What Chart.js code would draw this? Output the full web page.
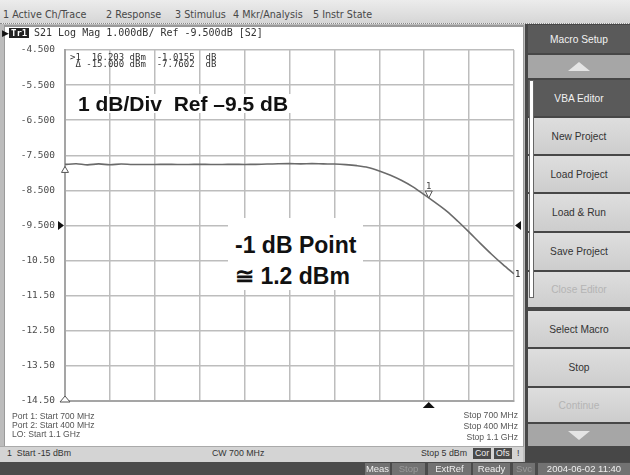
<!DOCTYPE html>
<html>
<head>
<meta charset="utf-8">
<script src="https://cdn.jsdelivr.net/npm/chart.js@4.4.0/dist/chart.umd.min.js"></script>
<style>
body { margin:0; width:630px; height:475px; overflow:hidden; background:#bcbcbc; position:relative; font-family:"Liberation Sans", Arial, sans-serif; }
.a { position:absolute; white-space:pre; }
#menu { left:0; top:0; width:630px; height:23px; background:linear-gradient(#ececec,#d6d6d6); border-bottom:1px dotted #8a8a8a; }
.mi { top:9px; font-size:9.6px; font-family:"DejaVu Sans", sans-serif; color:#484848; line-height:12px; }
#panel { left:4px; top:25px; width:518px; height:419px; background:#fff; border:1px solid #9a9a9a; border-top:2px solid #9a9a9a; }
#wrap { left:0; top:0; width:630px; height:475px; }
.mono { font-family:"DejaVu Sans Mono", monospace; color:#444; }
.big { font-weight:bold; color:#111; background:#fff; font-family:"Liberation Sans", Arial, sans-serif; }
.foot { font-size:8.6px; color:#555; line-height:9px; }
#status { left:0; top:446px; width:523px; height:15px; background:#d4d4d4; border-top:1px solid #aaa; }
.st { top:448px; font-size:8.8px; color:#333; line-height:11px; }
.dk { background:#4a4a4a; color:#eee; padding:0 2px; }
#bottom { left:0; top:462px; width:630px; height:13px; background:#4b4b4b; }
.bb { top:463px; height:12px; line-height:12px; font-size:9.5px; color:#eee; background:#727272; text-align:center; }
#side { left:525px; top:24px; width:105px; height:438px; background:#474747; }
.btn { left:528px; width:102px; background:linear-gradient(#dedede,#cdcdcd); color:#333; font-size:10.2px; text-align:center; display:flex; align-items:center; justify-content:center; }
.btn.dark { background:#5a5a5a; color:#f2f2f2; }
.btn.arr { background:#a6a6a6; }
.btn.off { color:#b4b4b4; }
</style>
</head>
<body>
<div id="menu" class="a"></div>
<span class="a mi" style="left:3px">1 Active Ch/Trace</span>
<span class="a mi" style="left:106px">2 Response</span>
<span class="a mi" style="left:175px">3 Stimulus</span>
<span class="a mi" style="left:233px">4 Mkr/Analysis</span>
<span class="a mi" style="left:313px">5 Instr State</span>

<div id="panel" class="a"></div>

<div id="wrap" class="a"><canvas id="c"></canvas></div>

<!-- trace title -->
<span class="a" style="left:2px;top:28px;font-size:9px;color:#111;line-height:10px">&#9654;</span>
<span class="a mono" style="left:9px;top:28px;font-size:9px;line-height:10px;background:#222;color:#fff;padding:0 2px;font-weight:bold">Tr1</span>
<span class="a mono" style="left:34px;top:27px;font-size:10px;line-height:12px;color:#333">S21 Log Mag 1.000dB/ Ref -9.500dB [S2]</span>

<!-- marker readout -->
<span class="a mono" style="left:70px;top:54px;font-size:9px;line-height:6.8px;color:#333">&gt;1  16.203 dBm  -1.0155  dB
 &#916; -15.000 dBm  -7.7602  dB</span>

<!-- annotations -->
<div class="a big" style="left:75px;top:94px;height:19px;line-height:19px;font-size:21px;padding:0 3px">1 dB/Div  Ref &#8211;9.5 dB</div>
<div class="a big" style="left:228px;top:218px;width:135px;height:72px"></div>
<span class="a big" style="left:235px;top:232px;font-size:23px;line-height:26px">-1 dB Point</span>
<span class="a big" style="left:235px;top:263px;font-size:23px;line-height:26px">&#8773; 1.2 dBm</span>

<!-- footnotes -->
<span class="a foot" style="left:12px;top:412px">Port 1: Start 700 MHz</span>
<span class="a foot" style="left:12px;top:421px">Port 2: Start 400 MHz</span>
<span class="a foot" style="left:12px;top:430px">LO: Start 1.1 GHz</span>
<span class="a foot" style="right:112px;top:411px">Stop 700 MHz</span>
<span class="a foot" style="right:112px;top:422px">Stop 400 MHz</span>
<span class="a foot" style="right:112px;top:433px">Stop 1.1 GHz</span>

<div id="status" class="a"></div>
<span class="a st" style="left:7px">1  Start -15 dBm</span>
<span class="a st" style="left:212px">CW 700 MHz</span>
<span class="a st" style="left:421px">Stop 5 dBm</span>
<span class="a st dk" style="left:473px">Cor</span>
<span class="a st dk" style="left:494px">Ofs</span>
<span class="a st" style="left:517px">!</span>

<div id="side" class="a"></div>
<div class="a btn dark" style="top:25px;height:28px">Macro Setup</div>
<div class="a btn arr" style="top:55px;height:23px"><svg width="22" height="9"><polygon points="11,0 22,9 0,9" fill="#e4e4e4"/></svg></div>
<div class="a btn dark" style="top:80px;height:36px">VBA Editor</div>
<div class="a btn" style="top:118px;height:36px">New Project</div>
<div class="a btn" style="top:156px;height:36px">Load Project</div>
<div class="a btn" style="top:194px;height:37px">Load &amp; Run</div>
<div class="a btn" style="top:233px;height:37px">Save Project</div>
<div class="a btn off" style="top:272px;height:35px">Close Editor</div>
<div class="a btn" style="top:311px;height:36px">Select Macro</div>
<div class="a btn" style="top:349px;height:37px">Stop</div>
<div class="a btn off" style="top:388px;height:34px">Continue</div>
<div class="a btn arr" style="top:424px;height:22px"><svg width="22" height="9"><polygon points="0,0 22,0 11,9" fill="#e4e4e4"/></svg></div>
<div class="a" style="left:529px;top:80px;width:3px;height:216px;background:#fff;border:1px solid #666"></div>

<div id="bottom" class="a"></div>
<span class="a bb" style="left:365px;width:25px">Meas</span>
<span class="a bb" style="left:392px;width:33px;color:#9a9a9a">Stop</span>
<span class="a bb" style="left:428px;width:43px">ExtRef</span>
<span class="a bb" style="left:473px;width:37px">Ready</span>
<span class="a bb" style="left:513px;width:22px;color:#9a9a9a">Svc</span>
<span class="a bb" style="left:538px;width:92px">2004-06-02 11:40</span>

<script>
// power sweep (x) and measured S21 log mag (y)
const powerDbm = [-15, -14.5, -14, -13.5, -13, -12.5, -12, -11.5, -11, -10.5, -10, -9.5, -9, -8.5, -8, -7.5, -7, -6.5, -6, -5.5,
  -5, -4.5, -4, -3.5, -3, -2.5, -2, -1.5, -1, -0.5, 0, 0.5, 1, 1.5, 2, 2.5, 3, 3.5, 4, 4.5, 5];
const s21Db = [-7.760, -7.742, -7.772, -7.745, -7.770, -7.748, -7.762, -7.760, -7.760, -7.758, -7.760, -7.760, -7.758, -7.760,
  -7.760, -7.758, -7.760, -7.758, -7.750, -7.742, -7.738, -7.745, -7.738, -7.745, -7.748, -7.765, -7.795, -7.845, -7.945,
  -8.07, -8.22, -8.40, -8.62, -8.85, -9.09, -9.38, -9.69, -10.01, -10.32, -10.61, -10.88];

// markers
const markerPower = [1.203];
const markerGain = [-8.776];
const refMarkerPower = [-15];
const refMarkerGain = [-7.7602];
const refLevel = [-9.5];

const yTickLabels = ['-4.500', '-5.500', '-6.500', '-7.500', '-8.500', '-9.500', '-10.50', '-11.50', '-12.50', '-13.50', '-14.50'];

function tri(ctx, cx, cy, dir, w, h, fill) {
  ctx.beginPath();
  if (dir === 'down') { ctx.moveTo(cx, cy); ctx.lineTo(cx - w / 2, cy - h); ctx.lineTo(cx + w / 2, cy - h); }
  if (dir === 'up') { ctx.moveTo(cx, cy); ctx.lineTo(cx - w / 2, cy + h); ctx.lineTo(cx + w / 2, cy + h); }
  if (dir === 'right') { ctx.moveTo(cx, cy); ctx.lineTo(cx - h, cy - w / 2); ctx.lineTo(cx - h, cy + w / 2); }
  if (dir === 'left') { ctx.moveTo(cx, cy); ctx.lineTo(cx + h, cy - w / 2); ctx.lineTo(cx + h, cy + w / 2); }
  ctx.closePath();
  if (fill) { ctx.fillStyle = '#111'; ctx.fill(); }
  else { ctx.fillStyle = '#fff'; ctx.fill(); ctx.strokeStyle = '#555'; ctx.lineWidth = 1; ctx.stroke(); }
}

const markerPlugin = {
  id: 'markers',
  afterDraw(chart) {
    const { ctx, chartArea: a, scales: { x, y } } = chart;
    ctx.save();
    const mx = x.getPixelForValue(markerPower[0]);
    const my = y.getPixelForValue(markerGain[0]);
    tri(ctx, mx, my - 2, 'down', 7, 7, false);
    ctx.fillStyle = '#444';
    ctx.font = '9px "DejaVu Sans Mono"';
    ctx.textAlign = 'center';
    ctx.textBaseline = 'middle';
    ctx.fillText('1', mx, my - 13);
    // reference marker
    const rx = x.getPixelForValue(refMarkerPower[0]);
    const ry = y.getPixelForValue(refMarkerGain[0]);
    tri(ctx, rx, ry + 2, 'up', 7, 6, false);
    // stimulus start / marker position on bottom edge
    tri(ctx, a.left, a.bottom - 5, 'up', 10, 6, false);
    tri(ctx, mx, a.bottom + 1, 'up', 12, 6, true);
    // reference level arrows
    const ly = y.getPixelForValue(refLevel[0]);
    tri(ctx, a.left - 1, ly, 'right', 9, 6, true);
    tri(ctx, a.right + 1, ly, 'left', 9, 6, true);
    // trace number at end of trace
    const ex = x.getPixelForValue(powerDbm[powerDbm.length - 1]);
    const ey = y.getPixelForValue(s21Db[s21Db.length - 1]);
    ctx.textAlign = 'left';
    ctx.fillText('1', ex + 1, ey + 1);
    ctx.restore();
  }
};

new Chart(document.getElementById('c'), {
  type: 'line',
  data: {
    datasets: [{
      data: powerDbm.map((p, i) => ({ x: p, y: s21Db[i] })),
      borderColor: '#6a6a6a',
      borderWidth: 1.6,
      pointRadius: 0,
      tension: 0.3,
      fill: false
    }]
  },
  options: {
    responsive: true,
    maintainAspectRatio: false,
    animation: false,
    devicePixelRatio: 1,
    layout: { padding: { left: 0, top: 50, right: 116, bottom: 74 } },
    plugins: { legend: { display: false }, tooltip: { enabled: false } },
    scales: {
      x: {
        type: 'linear', min: -15, max: 5,
        ticks: { stepSize: 2, display: false },
        grid: { color: '#bdbdbd', lineWidth: 1.5, drawTicks: false },
        border: { color: '#a5a5a5', width: 2 },
        afterFit: (s) => { s.height = 0; }
      },
      y: {
        min: -14.5, max: -4.5,
        ticks: {
          stepSize: 1, padding: 10, color: '#4a4a4a',
          font: { family: 'DejaVu Sans Mono', size: 9.5 },
          callback: (v) => yTickLabels[Math.round(-4.5 - v)]
        },
        grid: { color: '#bdbdbd', lineWidth: 1.5, drawTicks: false },
        border: { color: '#a5a5a5', width: 2 },
        afterFit: (s) => { s.width = 65; }
      }
    }
  },
  plugins: [markerPlugin]
});
</script>
</body>
</html>
